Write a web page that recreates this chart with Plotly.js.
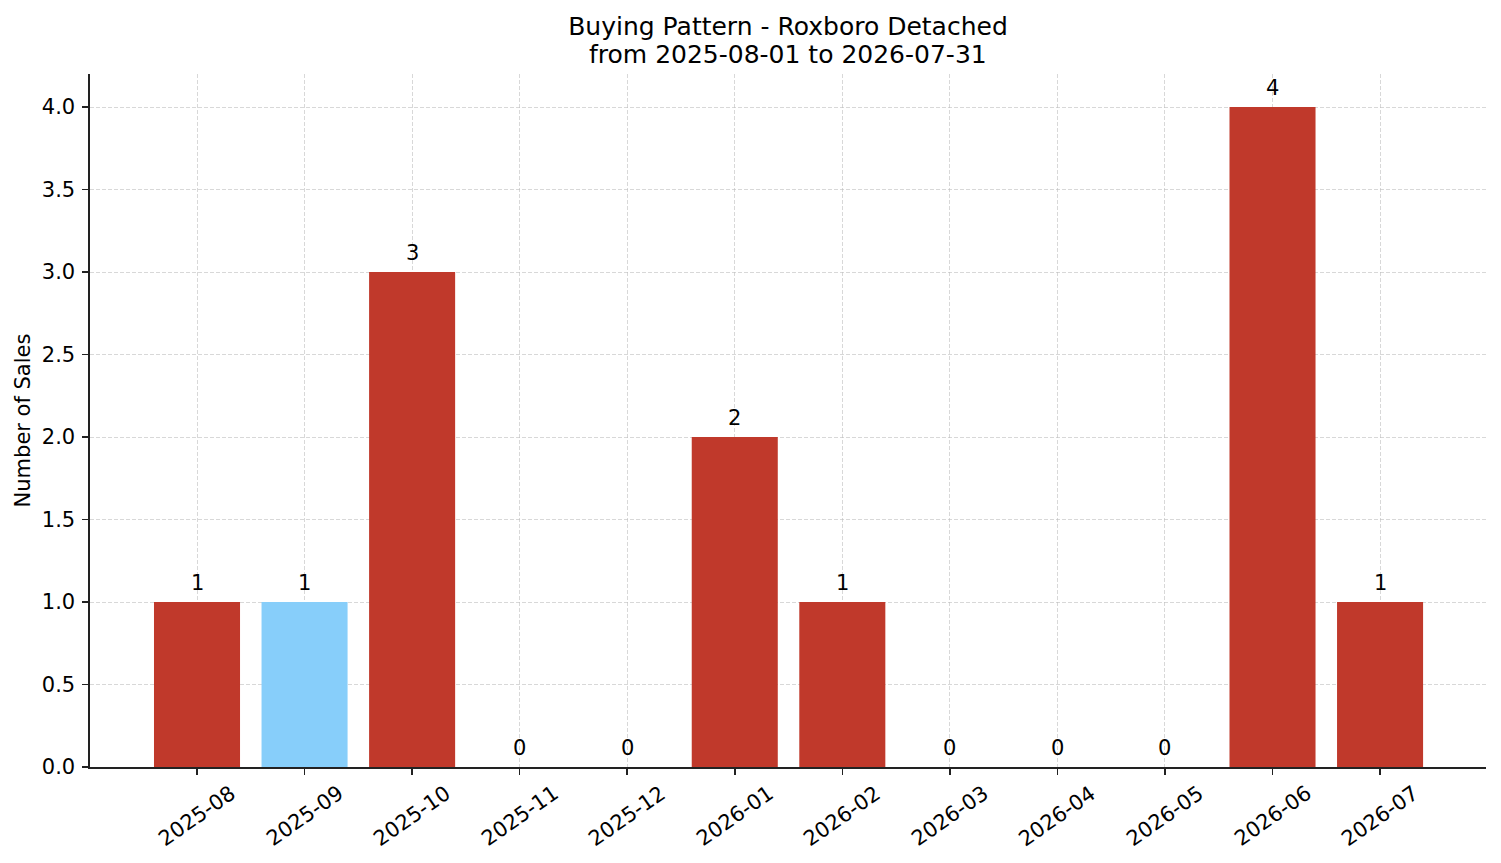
<!DOCTYPE html>
<html>
<head>
<meta charset="utf-8">
<script src="https://cdn.plot.ly/plotly-3.0.1.min.js"></script>
<style>html,body{margin:0;padding:0;background:#fff;}#chart{width:1501px;height:863px;}</style>
</head>
<body>
<div id="chart"></div>
<script>
const titleLine1 = "Buying Pattern - Roxboro Detached";
const titleLine2 = "from 2025-08-01 to 2026-07-31";
const months = ["2025-08","2025-09","2025-10","2025-11","2025-12","2026-01","2026-02","2026-03","2026-04","2026-05","2026-06","2026-07"];
const sales = [1,1,3,0,0,2,1,0,0,0,4,1];
const barColors = ["#c0392b","#87cefa","#c0392b","#c0392b","#c0392b","#c0392b","#c0392b","#c0392b","#c0392b","#c0392b","#c0392b","#c0392b"];
const yTicks = [0,0.5,1,1.5,2,2.5,3,3.5,4];

const FONT = "DejaVu Sans, sans-serif";
const FS = 21;

const trace = {
  type: "bar",
  x: months,
  y: sales,
  width: 0.8,
  marker: {color: barColors, line: {width: 0}},
  hoverinfo: "none"
};

const annotations = [];
months.forEach((m, i) => {
  annotations.push({
    x: m, y: sales[i], xref: "x", yref: "y",
    text: String(sales[i]), showarrow: false,
    yanchor: "bottom", xanchor: "center", yshift: 5,
    font: {family: FONT, size: FS, color: "#000"}
  });
  annotations.push({
    x: m, y: 0, xref: "x", yref: "paper",
    text: m, showarrow: false, textangle: -35,
    yanchor: "top", xanchor: "center", yshift: -11,
    font: {family: FONT, size: FS, color: "#000"}
  });
});
annotations.push({
  x: 0.5, y: 1, xref: "paper", yref: "paper",
  text: titleLine2, showarrow: false,
  xanchor: "center", yanchor: "middle", yshift: 20,
  font: {family: FONT, size: 25, color: "#000"}
});

const layout = {
  width: 1501, height: 863,
  margin: {l: 90, r: 15, t: 74, b: 96, pad: 0},
  paper_bgcolor: "#fff", plot_bgcolor: "#fff",
  showlegend: false,
  bargap: 0.2,
  title: {
    text: titleLine1,
    xref: "paper", x: 0.5, xanchor: "center",
    yref: "container", y: 1 - 26/863, yanchor: "middle",
    font: {family: FONT, size: 25, color: "#000"}
  },
  xaxis: {
    type: "category",
    range: [-0.995, 11.985],
    showticklabels: false,
    ticks: "outside", ticklen: 6, tickwidth: 1.5, tickcolor: "#222",
    showline: true, linecolor: "#222", linewidth: 1.6,
    showgrid: true, gridcolor: "rgba(190,190,190,0.6)", gridwidth: 1, griddash: "4px,2px",
    zeroline: false, layer: "above traces", fixedrange: true
  },
  yaxis: {
    range: [0, 4.2],
    tickvals: yTicks, tickformat: ".1f",
    ticks: "outside", ticklen: 6, tickwidth: 1.5, tickcolor: "#222",
    ticklabelstandoff: 3,
    showline: true, linecolor: "#222", linewidth: 1.6,
    showgrid: true, gridcolor: "rgba(190,190,190,0.6)", gridwidth: 1, griddash: "4px,2px",
    zeroline: false, layer: "above traces",
    tickfont: {family: FONT, size: FS, color: "#000"},
    title: {text: "Number of Sales", font: {family: FONT, size: FS, color: "#000"}, standoff: 5},
    fixedrange: true
  },
  annotations: annotations
};

Plotly.newPlot("chart", [trace], layout, {displayModeBar: false, staticPlot: true});
</script>
</body>
</html>
